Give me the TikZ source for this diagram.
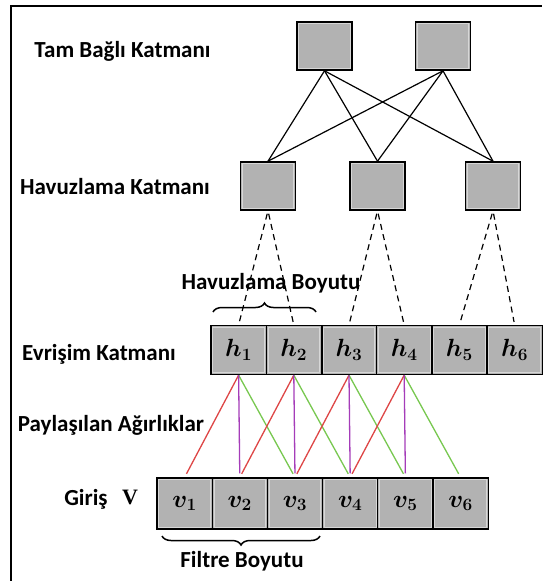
\documentclass[tikz,border=0pt]{standalone}
\usepackage[no-math]{fontspec}
\setmainfont{Carlito}
\newfontfamily\serifbold{Liberation Serif}
\usetikzlibrary{decorations.pathreplacing}
\definecolor{boxgray}{RGB}{178,178,178}
\definecolor{innergray}{RGB}{215,215,215}
\definecolor{wred}{RGB}{222,70,70}
\definecolor{wgreen}{RGB}{120,200,80}
\definecolor{wpurple}{RGB}{165,60,185}
\tikzset{
  unitbox/.style={draw=black, fill=boxgray, line width=1.6pt, minimum width=55pt, minimum height=48pt, inner sep=0pt,
    path picture={\draw[innergray, line width=0.7pt] ([shift={(1.8pt,-1.8pt)}]path picture bounding box.north west) rectangle ([shift={(-1.8pt,1.8pt)}]path picture bounding box.south east);}},
  cellbox/.style={unitbox, line width=1.3pt, minimum width=55.2pt, minimum height=49pt, font=\fontsize{24}{24}\selectfont\boldmath},
  lbl/.style={font=\fontsize{23}{23}\selectfont\bfseries, inner sep=0pt},
  fc/.style={black, line width=1.2pt},
  pool/.style={black, line width=1.2pt, dash pattern=on 6pt off 4.5pt, shorten <=3pt, shorten >=3pt},
  wline/.style={line width=1.3pt, shorten >=4pt},
  bracestyle/.style={decorate, decoration={brace, amplitude=9pt}, line width=1.5pt}
}
\begin{document}
\begin{tikzpicture}[x=1pt,y=-1pt]
\useasboundingbox (0,0) rectangle (542,581);
\fill[white] (0,0) rectangle (542,581);
% frame
\draw[line width=2.5pt] (11,581) -- (11,6) -- (542,6);

% labels
\node[lbl] (l1) at (122.5,51) {Tam Bağlı Katmanı};
\node[lbl] (l2) at (115,187) {Havuzlama Katmanı};
\node[lbl] (l3) at (99,354) {Evrişim Katmanı};
\node[lbl] (l4) at (111,425) {Paylaşılan Ağırlıklar};
\node[lbl] (l5) at (86,499) {Giriş};
\node[inner sep=0pt, font=\fontsize{22}{22}\serifbold\bfseries] (l6) at (130,497) {V};

% fully connected
\node[unitbox] (t1) at (324.5,46) {};
\node[unitbox] (t2) at (443,46) {};
% pooling
\node[unitbox] (p1) at (268,186) {};
\node[unitbox] (p2) at (377.5,186) {};
\node[unitbox] (p3) at (493,186) {};

\foreach \a in {t1,t2}
  \foreach \b in {p1,p2,p3}
    \draw[fc] (\a.south) -- (\b.north);

% convolution row
\foreach \i in {1,...,6} {
  \node[cellbox] (h\i) at ({211+55.2*(\i-0.5)},350) {$h_{\i}$};
}
\draw[line width=2pt] (h2.north east) -- (h2.south east);
\draw[line width=2pt] (h4.north east) -- (h4.south east);

% input row
\foreach \i in {1,...,6} {
  \node[cellbox, minimum height=51pt] (v\i) at ({157+55.2*(\i-0.5)},503.5) {$v_{\i}$};
}

% pooling connections
\draw[pool] (p1.south) -- (h1.north);
\draw[pool] (p1.south) -- (h2.north);
\draw[pool] (p2.south) -- (h3.north);
\draw[pool] (p2.south) -- (h4.north);
\draw[pool] (p3.south) -- (h5.north);
\draw[pool] (p3.south) -- (h6.north);

% shared weights
\foreach \i/\j/\k/\m in {1/1/2/3, 2/2/3/4, 3/3/4/5, 4/4/5/6} {
  \draw[wline, wred] (h\i.south) -- (v\j.north);
  \draw[wline, wgreen] (h\i.south) -- (v\m.north);
  \draw[wline, wpurple] (h\i.south) -- (v\k.north);
}

% braces
\draw[bracestyle] (213,312) -- (316,312);
\node[lbl] (hb) at (271,283) {Havuzlama Boyutu};
\draw[bracestyle] (320,536) -- (162,536);
\node[lbl] (fb) at (242,561) {Filtre Boyutu};
\end{tikzpicture}
\end{document}
